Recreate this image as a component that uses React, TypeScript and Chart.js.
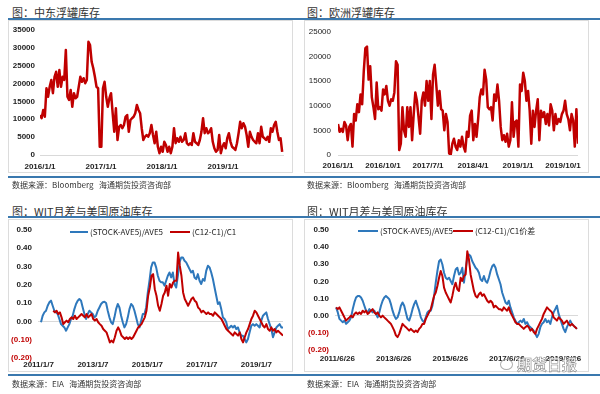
import React, { useEffect, useRef } from 'react';
import { Chart, registerables } from 'chart.js';
Chart.register(...registerables);

// ---------- Panel 1: 中东浮罐库存 ----------
const MIDEAST_TITLE = '图：中东浮罐库存';
const MIDEAST_SOURCE = '数据来源：Bloomberg   海通期货投资咨询部';
const MIDEAST_VALUES = [
  11200, 10300, 12600, 10700, 18700, 16300, 19100, 21000, 17300, 21900, 23300, 19100, 23800, 19100, 21900, 21000,
  29400, 16300, 15400, 18200, 13500, 17300, 15900, 16300, 19100, 21900, 20500, 21500, 20100, 21000, 31700, 30800,
  26100, 24300, 21900, 19100, 18700, 2300, 2300, 18700, 20500, 16300, 13500, 15900, 17300, 11700, 6500, 13100,
  4200, 7900, 8400, 7500, 8400, 10700, 11200, 6500, 9800, 10300, 10700, 11700, 14000, 12600, 11700, 7500,
  4200, 5100, 5600, 5100, 6100, 8400, 5600, 3300, 6500, 2300, 500, 2300, 900, 3700, 2800, 900,
  2300, 500, 2300, 7500, 3300, 4700, 3700, 5100, 3700, 4200, 6100, 3300, 2800, 3300, 2800, 6100,
  3700, 3300, 2800, 4200, 6500, 10300, 6100, 7500, 6100, 6500, 7500, 3700, 1900, 900, 1400, 5600,
  500, 2300, 3300, 1900, 4700, 6100, 3700, 2300, 1900, 1400, 3300, 6100, 9300, 7500, 8900, 7900,
  5600, 2300, 6500, 5100, 4200, 3700, 3300, 6100, 3300, 7900, 5100, 4700, 4200, 5100, 3700, 7500,
  6500, 8400, 9300, 6500, 4200, 4700, 900,
];
const MIDEAST_SPAN = [2016.0, 2019.97];
const MIDEAST_X_TICKS = [2016.0, 2017.0, 2018.0, 2019.0];
const MIDEAST_X_LABELS = ['2016/1/1', '2017/1/1', '2018/1/1', '2019/1/1'];

// ---------- Panel 2: 欧洲浮罐库存 ----------
const EUROPE_TITLE = '图：欧洲浮罐库存';
const EUROPE_SOURCE = '数据来源：Bloomberg   海通期货投资咨询部';
const EUROPE_VALUES = [
  6300, 4700, 5300, 4700, 6700, 6000, 3000, 5700, 6300, 1700, 8300, 7000, 10300, 8700, 12300, 10300,
  17000, 21700, 22000, 15300, 18000, 11700, 9700, 7300, 14700, 9300, 9700, 9000, 13300, 12300, 14000, 11000,
  10000, 11300, 11000, 12700, 19000, 18300, 1000, 2300, 9700, 5000, 3700, 9700, 5700, 9700, 3000, 8300,
  12700, 11000, 7700, 4300, 11000, 12700, 10000, 15000, 11000, 15000, 7300, 16300, 18300, 14300, 10000, 13000,
  9300, 9000, 5000, 8300, 6700, 300, 100, 2300, 3300, 1700, 1000, 3000, 1700, 3700, 1700, 700,
  4700, 3700, 8000, 9000, 3000, 6300, 3700, 7300, 11700, 13300, 12300, 17300, 15300, 9700, 9300, 9700,
  7000, 12300, 11000, 14300, 11000, 5700, 3000, 4000, 2700, 4300, 1700, 3000, 10700, 3700, 6700, 7000,
  1700, 14300, 13000, 16700, 15000, 11000, 13000, 9000, 2300, 9000, 5700, 9000, 11300, 3000, 9000, 7700,
  8700, 6300, 8300, 6000, 10300, 9000, 5000, 8300, 6300, 7300, 6700, 8300, 9000, 11000, 8300, 7300,
  5000, 8300, 7000, 1700, 9300, 2300,
];
const EUROPE_SPAN = [2016.0, 2020.0];
const EUROPE_X_TICKS = [2016.0, 2016.75, 2017.5, 2018.25, 2019.0, 2019.75];
const EUROPE_X_LABELS = ['2016/1/1', '2016/10/1', '2017/7/1', '2018/4/1', '2019/1/1', '2019/10/1'];

// ---------- Panels 3 & 4: WIT月差与美国原油库存 ----------
const WTI_TITLE = '图：WIT月差与美国原油库存';
const WTI_SOURCE = '数据来源：EIA   海通期货投资咨询部';
const STOCK_LABEL = '(STOCK-AVE5)/AVE5';
const SPREAD_LABEL_A = '(C12-C1)/C1';
const SPREAD_LABEL_B = '(C12-C1)/C1价差';

const STOCK_A = [
  -0.005, 0.031, 0.049, 0.058, 0.085, 0.104, 0.113, 0.085, 0.058, 0.049, 0.040, 0.013, -0.015, -0.024, -0.033, -0.051,
  -0.033, -0.015, 0.013, 0.031, 0.067, 0.095, 0.113, 0.122, 0.113, 0.076, 0.040, 0.013, 0.040, 0.058, 0.049, 0.040,
  0.022, 0.031, 0.058, 0.076, 0.095, 0.104, 0.107, 0.100, 0.058, 0.022, -0.005, -0.015, 0.022, 0.067, 0.095, 0.076,
  0.031, -0.005, -0.033, -0.015, 0.022, 0.067, 0.095, 0.085, 0.058, 0.022, -0.015, -0.033, 0.004, 0.040, 0.040, 0.076,
  0.158, 0.222, 0.295, 0.322, 0.322, 0.295, 0.249, 0.222, 0.213, 0.213, 0.195, 0.222, 0.249, 0.267, 0.240, 0.267,
  0.204, 0.185, 0.249, 0.322, 0.349, 0.349, 0.331, 0.322, 0.304, 0.285, 0.267, 0.276, 0.240, 0.231, 0.258, 0.222,
  0.204, 0.231, 0.222, 0.276, 0.304, 0.295, 0.267, 0.231, 0.185, 0.140, 0.095, 0.104, 0.067, 0.022, 0.013, -0.005,
  -0.042, -0.033, -0.024, -0.033, -0.024, -0.042, -0.033, -0.060, -0.078, -0.078, -0.096, -0.115, -0.096, -0.060, -0.024, -0.015,
  -0.024, -0.015, -0.024, -0.033, 0.004, 0.031, 0.040, 0.049, 0.013, -0.015, -0.042, -0.087, -0.060, -0.033, -0.024, -0.015,
  -0.033, -0.033,
];
const STOCK_A_SPAN = [2011.11, 2020.0];
const SPREAD_A = [
  0.058, 0.049, 0.058, 0.040, 0.049, 0.022, -0.015, -0.005, 0.004, -0.005, 0.013, 0.022, 0.013, 0.031, 0.013, 0.022,
  0.031, 0.040, 0.031, 0.022, 0.040, 0.022, 0.031, 0.040, 0.013, 0.004, 0.013, -0.005, -0.015, -0.024, -0.042, -0.051,
  -0.060, -0.087, -0.115, -0.105, -0.115, -0.087, -0.051, -0.033, -0.051, -0.078, -0.087, -0.096, -0.087, -0.096, -0.087, -0.096,
  -0.087, -0.069, -0.051, -0.033, -0.024, -0.015, 0.004, 0.022, 0.058, 0.140, 0.185, 0.249, 0.258, 0.176, 0.140, 0.085,
  0.058, 0.095, 0.140, 0.158, 0.195, 0.140, 0.204, 0.185, 0.213, 0.222, 0.222, 0.376, 0.304, 0.249, 0.158, 0.122,
  0.104, 0.085, 0.104, 0.122, 0.131, 0.113, 0.104, 0.076, 0.067, 0.049, 0.058, 0.049, 0.040, 0.049, 0.040, 0.040,
  0.031, 0.049, 0.040, 0.031, 0.022, 0.013, -0.005, -0.024, -0.042, -0.051, -0.060, -0.069, -0.078, -0.060, -0.069, -0.078,
  -0.060, -0.096, -0.115, -0.087, -0.060, -0.042, -0.015, 0.013, 0.031, 0.058, 0.049, 0.031, 0.013, -0.005, -0.024, -0.033,
  -0.015, -0.042, -0.051, -0.033, -0.051, -0.042, -0.060, -0.051, -0.060, -0.069, -0.078,
];
const SPREAD_A_SPAN = [2011.56, 2020.0];
const WTI_A_X_TICKS = [2011.02, 2013.02, 2015.02, 2017.02, 2019.02];
const WTI_A_X_LABELS = ['2011/1/7', '2013/1/7', '2015/1/7', '2017/1/7', '2019/1/7'];

const STOCK_B = [
  0.048, 0.019, -0.019, -0.029, -0.038, -0.029, -0.048, -0.038, -0.029, -0.010, 0.038, 0.077, 0.106, 0.115, 0.115, 0.106,
  0.087, 0.058, 0.029, 0.019, 0.038, 0.029, 0.019, 0.029, 0.010, -0.010, 0.019, 0.058, 0.087, 0.106, 0.115, 0.106,
  0.096, 0.067, 0.029, 0.000, -0.019, -0.010, 0.019, 0.058, 0.077, 0.058, 0.019, -0.019, -0.029, 0.000, 0.038, 0.067,
  0.087, 0.058, 0.029, -0.010, -0.029, -0.038, -0.010, 0.019, 0.029, 0.029, 0.058, 0.115, 0.192, 0.260, 0.317, 0.327,
  0.298, 0.250, 0.221, 0.212, 0.221, 0.202, 0.183, 0.231, 0.269, 0.279, 0.240, 0.250, 0.279, 0.192, 0.269, 0.337,
  0.356, 0.346, 0.317, 0.298, 0.279, 0.269, 0.250, 0.212, 0.202, 0.231, 0.202, 0.192, 0.221, 0.260, 0.288, 0.298,
  0.279, 0.240, 0.212, 0.183, 0.135, 0.106, 0.077, 0.067, 0.087, 0.048, 0.019, -0.010, -0.029, -0.048, -0.038, -0.029,
  -0.038, -0.019, -0.048, -0.038, -0.058, -0.067, -0.077, -0.087, -0.106, -0.125, -0.106, -0.067, -0.048, -0.038, -0.019, -0.038,
  -0.029, -0.048, -0.010, 0.019, 0.038, 0.058, 0.010, -0.019, -0.048, -0.077, -0.096, -0.067, -0.048, -0.029, -0.048, -0.058,
  -0.067, -0.077,
];
const SPREAD_B = [
  0.048, 0.038, 0.048, 0.029, 0.010, -0.010, -0.029, -0.019, -0.010, 0.000, -0.010, 0.010, 0.019, 0.010, 0.019, 0.010,
  0.029, 0.019, 0.029, 0.010, 0.019, 0.029, 0.038, 0.019, 0.010, 0.019, 0.000, -0.010, 0.000, -0.010, -0.019, -0.029,
  -0.038, -0.048, -0.067, -0.087, -0.115, -0.125, -0.106, -0.077, -0.048, -0.058, -0.067, -0.077, -0.087, -0.077, -0.087, -0.096,
  -0.087, -0.096, -0.077, -0.067, -0.048, -0.048, -0.019, 0.000, 0.019, 0.038, 0.077, 0.115, 0.135, 0.173, 0.221, 0.260,
  0.231, 0.163, 0.135, 0.115, 0.096, 0.077, 0.115, 0.163, 0.192, 0.154, 0.144, 0.221, 0.202, 0.231, 0.240, 0.375,
  0.327, 0.240, 0.192, 0.144, 0.115, 0.106, 0.125, 0.135, 0.115, 0.125, 0.106, 0.087, 0.077, 0.087, 0.077, 0.048,
  0.058, 0.048, 0.038, 0.038, 0.029, 0.048, 0.038, 0.029, 0.048, 0.019, 0.000, -0.019, -0.038, -0.048, -0.048, -0.058,
  -0.067, -0.077, -0.067, -0.058, -0.067, -0.087, -0.077, -0.096, -0.106, -0.077, -0.058, -0.038, -0.019, 0.010, 0.029, 0.048,
  0.038, 0.029, 0.019, -0.010, -0.019, -0.029, -0.010, -0.019, -0.029, -0.048, -0.038, -0.029, -0.048, -0.058, -0.048, -0.058,
  -0.067, -0.077,
];
const WTI_B_SPAN = [2011.44, 2019.96];
const WTI_B_X_TICKS = [2011.48, 2013.48, 2015.48, 2017.48, 2019.48];
const WTI_B_X_LABELS = ['2011/6/26', '2013/6/26', '2015/6/26', '2017/6/26', '2019/6/26'];

const RED = '#C00000';
const BLUE = '#2E78BC';
const RULE = '#3A78AE';
const TEXT = '#333333';
const LABEL_FONT = '"Liberation Sans", Arial, sans-serif';
const CJK_FONT = '"Noto Sans CJK SC", "Noto Sans", sans-serif';

type Series = { label: string; values: number[]; span: number[]; color: string; width: number; order: number };

type PanelProps = {
  left: number; top: number; width: number; height: number;
  plotLeft: number; plotRight: number; plotTop: number; plotBottom: number;
  series: Series[];
  xMin: number; xMax: number; xTicks: number[]; xLabels: string[]; xPad: number;
  yMin: number; yMax: number; yStep: number; yPad: number; ratio: boolean; yBold: boolean;
};

function toPoints(values: number[], span: number[]) {
  const n = values.length;
  return values.map((y, i) => ({ x: span[0] + ((span[1] - span[0]) * i) / (n - 1), y }));
}

function PanelChart(p: PanelProps) {
  const ref = useRef<HTMLCanvasElement | null>(null);
  useEffect(() => {
    if (!ref.current) return;
    const chart = new Chart(ref.current, {
      type: 'line',
      data: {
        datasets: p.series.map((s) => ({
          label: s.label,
          data: toPoints(s.values, s.span),
          borderColor: s.color,
          backgroundColor: s.color,
          borderWidth: s.width,
          pointRadius: 0,
          tension: 0,
          fill: false,
          order: s.order,
          borderJoinStyle: 'round' as const,
        })),
      },
      options: {
        animation: false,
        responsive: false,
        maintainAspectRatio: false,
        events: [],
        layout: { padding: { left: 0, top: p.plotTop, right: p.width - p.plotRight, bottom: 0 } },
        plugins: { legend: { display: false }, tooltip: { enabled: false }, title: { display: false } },
        scales: {
          x: {
            type: 'linear',
            min: p.xMin,
            max: p.xMax,
            afterBuildTicks: (sc: any) => {
              sc.ticks = p.xTicks.map((v) => ({ value: v }));
            },
            afterFit: (sc: any) => {
              sc.height = p.height - p.plotBottom;
            },
            grid: { display: false, drawTicks: false },
            border: { display: false },
            ticks: {
              autoSkip: false,
              maxRotation: 0,
              minRotation: 0,
              padding: p.xPad,
              color: '#222',
              font: { family: LABEL_FONT, size: 8, weight: 'bold' },
              callback: (_v: any, i: number) => p.xLabels[i],
            },
          },
          y: {
            type: 'linear',
            min: p.yMin,
            max: p.yMax,
            afterFit: (sc: any) => {
              sc.width = p.plotLeft;
            },
            grid: {
              display: true,
              drawTicks: false,
              lineWidth: 1,
              color: (ctx: any) => (ctx.tick && Math.abs(ctx.tick.value) < 1e-9 ? '#d9d9d9' : 'rgba(0,0,0,0)'),
            },
            border: { display: false },
            ticks: {
              stepSize: p.yStep,
              padding: p.yPad,
              color: (ctx: any) => (ctx.tick && ctx.tick.value < -1e-9 ? RED : '#222'),
              font: { family: LABEL_FONT, size: 8, weight: p.yBold ? 'bold' : 'normal' },
              callback: (v: any) => {
                const n = Number(v);
                if (!p.ratio) return String(Math.round(n));
                if (n < -1e-9) return '(' + Math.abs(n).toFixed(2) + ')';
                return Math.abs(n).toFixed(2);
              },
            },
          },
        },
      } as any,
    });
    return () => chart.destroy();
  }, []);
  return (
    <canvas
      ref={ref}
      width={p.width}
      height={p.height}
      style={{ position: 'absolute', left: p.left, top: p.top, width: p.width, height: p.height }}
    />
  );
}

function Rule({ top }: { top: number }) {
  return <div style={{ position: 'absolute', left: 8, top, width: 592, height: 2, background: RULE }} />;
}

function Box({ left, top }: { left: number; top: number }) {
  return (
    <div
      style={{
        position: 'absolute', left, top, width: 285, height: 153,
        border: '1px solid #dcdcdc', boxSizing: 'border-box', pointerEvents: 'none',
      }}
    />
  );
}

function Title({ left, top, text }: { left: number; top: number; text: string }) {
  return (
    <div style={{ position: 'absolute', left, top, fontFamily: CJK_FONT, fontSize: 11, lineHeight: '13px', color: TEXT, whiteSpace: 'pre' }}>
      {text}
    </div>
  );
}

function Source({ left, top, text }: { left: number; top: number; text: string }) {
  return (
    <div style={{ position: 'absolute', left, top, fontFamily: CJK_FONT, fontSize: 8, lineHeight: '10px', color: TEXT, whiteSpace: 'pre' }}>
      {text}
    </div>
  );
}

function LegendItem({ left, top, swatch, color, text }: { left: number; top: number; swatch: number; color: string; text: string }) {
  return (
    <div style={{ position: 'absolute', left, top, height: 10, display: 'flex', alignItems: 'center', whiteSpace: 'pre' }}>
      <div style={{ width: swatch, height: 2.5, background: color, marginRight: 2 }} />
      <span style={{ fontFamily: CJK_FONT, fontSize: 8, lineHeight: '10px', color: '#222' }}>{text}</span>
    </div>
  );
}

export default function App() {
  return (
    <div style={{ position: 'absolute', left: 0, top: 0, width: 600, height: 394, background: '#fff', overflow: 'hidden' }}>
      <Title left={12} top={6} text={MIDEAST_TITLE} />
      <Title left={307} top={6} text={EUROPE_TITLE} />
      <Rule top={18} />
      <PanelChart
        left={8} top={20} width={285} height={153}
        plotLeft={32} plotRight={276} plotTop={10} plotBottom={135}
        series={[{ label: '中东浮罐库存', values: MIDEAST_VALUES, span: MIDEAST_SPAN, color: RED, width: 2.5, order: 0 }]}
        xMin={2016.0} xMax={2020.0} xTicks={MIDEAST_X_TICKS} xLabels={MIDEAST_X_LABELS} xPad={7}
        yMin={0} yMax={35000} yStep={5000} yPad={5} ratio={false} yBold={true}
      />
      <PanelChart
        left={304} top={20} width={285} height={153}
        plotLeft={34} plotRight={274} plotTop={10} plotBottom={135}
        series={[{ label: '欧洲浮罐库存', values: EUROPE_VALUES, span: EUROPE_SPAN, color: RED, width: 2.5, order: 0 }]}
        xMin={2016.0} xMax={2020.0} xTicks={EUROPE_X_TICKS} xLabels={EUROPE_X_LABELS} xPad={6}
        yMin={0} yMax={25000} yStep={5000} yPad={7} ratio={false} yBold={false}
      />
      <Box left={8} top={20} />
      <Box left={304} top={20} />
      <Rule top={176} />
      <Source left={12} top={180} text={MIDEAST_SOURCE} />
      <Source left={307} top={180} text={EUROPE_SOURCE} />

      <Title left={12} top={205} text={WTI_TITLE} />
      <Title left={307} top={205} text={WTI_TITLE} />
      <Rule top={216} />
      <PanelChart
        left={8} top={219} width={285} height={153}
        plotLeft={30} plotRight={275} plotTop={10} plotBottom={139}
        series={[
          { label: STOCK_LABEL, values: STOCK_A, span: STOCK_A_SPAN, color: BLUE, width: 2, order: 1 },
          { label: SPREAD_LABEL_A, values: SPREAD_A, span: SPREAD_A_SPAN, color: RED, width: 2, order: 0 },
        ]}
        xMin={2011.0} xMax={2020.0} xTicks={WTI_A_X_TICKS} xLabels={WTI_A_X_LABELS} xPad={2}
        yMin={-0.2} yMax={0.5} yStep={0.1} yPad={6} ratio={true} yBold={true}
      />
      <PanelChart
        left={304} top={219} width={285} height={153}
        plotLeft={31} plotRight={274} plotTop={9} plotBottom={131}
        series={[
          { label: STOCK_LABEL, values: STOCK_B, span: WTI_B_SPAN, color: BLUE, width: 2, order: 1 },
          { label: SPREAD_LABEL_B, values: SPREAD_B, span: WTI_B_SPAN, color: RED, width: 2, order: 0 },
        ]}
        xMin={2011.4} xMax={2020.0} xTicks={WTI_B_X_TICKS} xLabels={WTI_B_X_LABELS} xPad={4}
        yMin={-0.2} yMax={0.5} yStep={0.1} yPad={6} ratio={true} yBold={true}
      />
      <LegendItem left={70} top={227} swatch={18} color={BLUE} text={STOCK_LABEL} />
      <LegendItem left={170} top={227} swatch={20} color={RED} text={SPREAD_LABEL_A} />
      <LegendItem left={358} top={226} swatch={20} color={BLUE} text={STOCK_LABEL} />
      <LegendItem left={453} top={226} swatch={20} color={RED} text={SPREAD_LABEL_B} />
      <Box left={8} top={219} />
      <Box left={304} top={219} />
      <Rule top={374} />
      <Source left={12} top={379} text={WTI_SOURCE} />
      <Source left={307} top={379} text={WTI_SOURCE} />

      <div style={{ position: 'absolute', left: 500, top: 359, width: 13, height: 11, border: '1px solid #9a9a9a', borderRadius: '50%', boxSizing: 'border-box', opacity: 0.8 }} />
      <div
        style={{
          position: 'absolute', left: 517, top: 355, fontFamily: CJK_FONT, fontSize: 15, fontWeight: 'bold', lineHeight: '18px',
          color: 'rgba(255,255,255,0.85)', WebkitTextStroke: '0.6px #8c8c8c', whiteSpace: 'pre',
        }}
      >
        期货日报
      </div>
    </div>
  );
}
